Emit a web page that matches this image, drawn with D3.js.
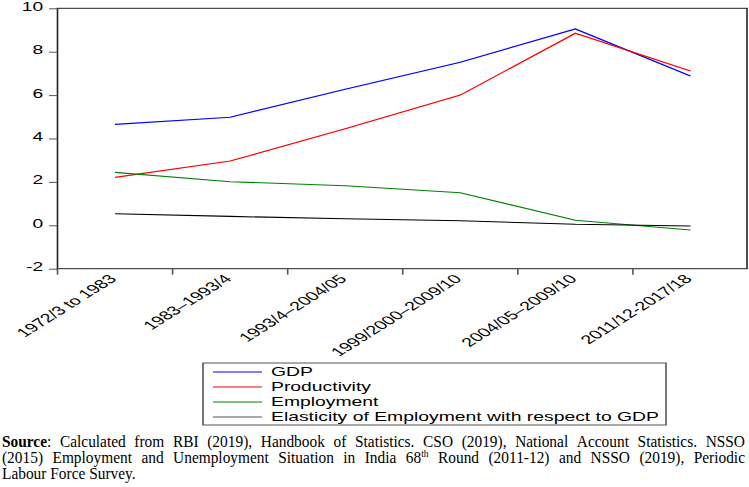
<!DOCTYPE html>
<html><head><meta charset="utf-8">
<script src="https://cdn.jsdelivr.net/npm/d3@7"></script>
<style>
html,body{margin:0;padding:0;background:#fff;}
svg{display:block;}
</style></head>
<body>
<svg id="chart" width="749" height="487"></svg>
<script>
// ---- data ----
const categories = ["1972/3 to 1983","1983\u20131993/4","1993/4\u20132004/05","1999/2000\u20132009/10","2004/05\u20132009/10","2011/12-2017/18"];
const gdp          = [4.65, 4.98, 6.27, 7.51, 9.05, 6.88];
const productivity = [2.21, 2.96, 4.45, 6.00, 8.85, 7.11];
const employment   = [2.44, 2.01, 1.82, 1.50, 0.23, -0.22];
const elasticity   = [0.53, 0.41, 0.30, 0.21, 0.05, -0.03];
const yTicks = [-2, 0, 2, 4, 6, 8, 10];
const seriesNames  = ["GDP","Productivity","Employment","Elasticity of Employment with respect to GDP"];
const seriesColors = ["#0000ff","#ff0000","#008000","#000000"];
const sourceLines = [
  [[{t:"Source",b:1},{t:":"}],"Calculated","from","RBI","(2019),","Handbook","of","Statistics.","CSO","(2019),","National","Account","Statistics.","NSSO"],
  ["(2015)","Employment","and","Unemployment","Situation","in","India",[{t:"68"},{t:"th",sup:1}],"Round","(2011-12)","and","NSSO","(2019),","Periodic"],
  ["Labour","Force","Survey."]
];

(function(){
// ---- layout ----
const SX = 1.6; // horizontal stretch of the original graphic
const svg = d3.select("#chart");
const g = svg.append("g").attr("transform", `scale(${SX},1)`);
const pLeft = 57.5/SX, pRight = 748/SX, frameRight = 747/SX;
const pTop = 8.3, pBottom = 268.7;

const x = d3.scaleBand().domain(categories).range([pLeft, pRight]);
const y = d3.scaleLinear().domain([-2, 10]).range([pBottom, pTop]);

// frame
g.append("rect").attr("x", pLeft).attr("y", pTop)
  .attr("width", frameRight - pLeft).attr("height", pBottom - pTop)
  .attr("fill", "none").attr("stroke", "#222").attr("stroke-width", 1);

// y axis
const yAxis = d3.axisLeft(y).tickValues(yTicks).tickSize(5.3).tickPadding(3.7).tickFormat(d => String(d));
const ya = g.append("g").attr("transform", `translate(${pLeft},0)`).call(yAxis);
ya.select(".domain").remove();
ya.selectAll(".tick line").attr("stroke", "#555");
ya.selectAll(".tick text").attr("font-family", "Liberation Sans, Arial, sans-serif")
  .attr("font-size", 12).attr("fill", "#000").attr("dy", "0.17em");

// x axis ticks at band boundaries
const bounds = x.domain().map(c => x(c));
g.append("g").selectAll("line").data(bounds).join("line")
  .attr("x1", d => d).attr("x2", d => d)
  .attr("y1", pBottom).attr("y2", pBottom + 6).attr("stroke", "#555").attr("stroke-width", 1);

// x labels
g.append("g").selectAll("text").data(categories).join("text")
  .attr("transform", d => `translate(${x(d) + x.bandwidth()/2 + 2.5/SX},${pBottom + 11}) rotate(-45)`)
  .attr("text-anchor", "end")
  .attr("font-family", "Liberation Sans, Arial, sans-serif").attr("font-size", 12.3).attr("fill", "#000")
  .text(d => d);

// lines
const seriesData = [gdp, productivity, employment, elasticity];
const line = d3.line().x((d, i) => x(categories[i]) + x.bandwidth()/2).y(d => y(d));
g.append("g").selectAll("path").data(seriesData).join("path")
  .attr("d", d => line(d)).attr("fill", "none")
  .attr("stroke", (d, i) => seriesColors[i]).attr("stroke-width", 1.1);

// legend
const lg = g.append("g");
lg.append("rect").attr("x", 203/SX).attr("y", 363).attr("width", (666-203)/SX).attr("height", 62)
  .attr("fill", "#fff").attr("stroke", "#555").attr("stroke-width", 1);
const rows = lg.selectAll("g.row").data(seriesNames).join("g").attr("class", "row")
  .attr("transform", (d, i) => `translate(0,${372 + i*15})`);
rows.append("line").attr("x1", 213/SX).attr("x2", 262/SX).attr("y1", 0).attr("y2", 0)
  .attr("stroke", (d, i) => i === 3 ? "#555" : seriesColors[i]).attr("stroke-width", 1.2);
rows.append("text").attr("x", 271/SX).attr("y", 4.3)
  .attr("font-family", "Liberation Sans, Arial, sans-serif").attr("font-size", 12.1).attr("fill", "#000")
  .text(d => d);

// source text, slightly condensed serif, justified lines
const FS = 16.2, CX = 0.95;
const src = svg.append("g").attr("transform", `scale(${CX},1)`)
  .attr("font-family", "Liberation Serif, 'Times New Roman', serif").attr("font-size", FS).attr("fill", "#000");
const baselines = [447, 463.3, 479.5];
const xL = 2/CX, xR = 745/CX;
sourceLines.forEach((words, li) => {
  const items = words.map(w => {
    const parts = typeof w === "string" ? [{t: w}] : w;
    const t = src.append("text").attr("y", baselines[li]);
    parts.forEach(p => {
      const ts = t.append("tspan").text(p.t);
      if (p.b) ts.attr("font-weight", "bold");
      if (p.sup) ts.attr("font-size", 10).attr("dy", -6.5);
    });
    return t;
  });
  const widths = items.map(t => t.node().getComputedTextLength());
  const total = d3.sum(widths);
  const justify = li < sourceLines.length - 1;
  const gap = justify ? (xR - xL - total) / (items.length - 1) : FS * 0.25;
  let cx = xL;
  items.forEach((t, i) => { t.attr("x", cx); cx += widths[i] + gap; });
});
})();
</script>
</body></html>
